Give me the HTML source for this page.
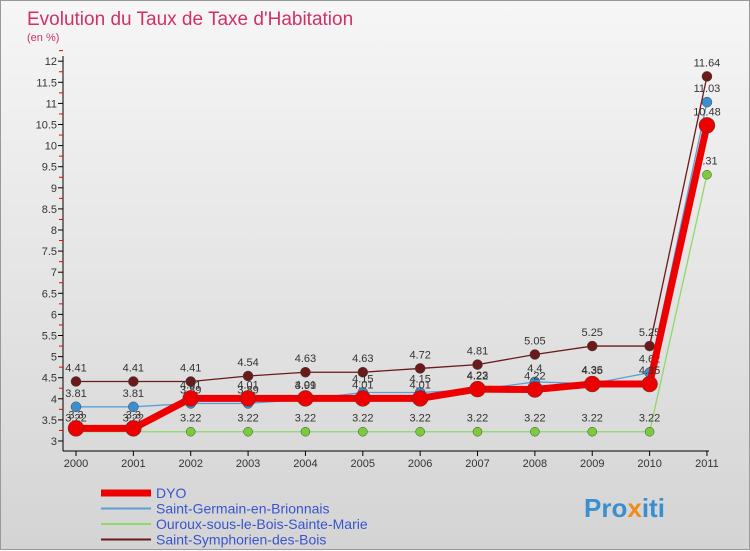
<!DOCTYPE html>
<html><head><meta charset="utf-8"><style>
body{margin:0;width:750px;height:550px;overflow:hidden;font-family:"Liberation Sans",sans-serif}
#wrap{position:absolute;left:0;top:0;width:748px;height:548px;border:1px solid #999;background:linear-gradient(#f6f6f6,#d4d4d4)}
</style></head><body>
<div id="wrap">
<svg id="c" width="750" height="550" style="position:absolute;left:0;top:0">
<text x="26" y="24" font-size="19" fill="#d0306a">Evolution du Taux de Taxe d'Habitation</text>
<text x="26" y="40" font-size="11" fill="#d0306a">(en %)</text>
<g id="axes"></g><g id="series"></g><g id="legend"></g>
<text x="583" y="516" font-size="26" font-weight="bold" fill="#3a8fd0">Pro<tspan fill="#f08a1c">x</tspan>iti</text>
</svg></div>
<script>
const years=[2000,2001,2002,2003,2004,2005,2006,2007,2008,2009,2010,2011];
const dyo=[3.3,3.3,4.01,4.01,4.01,4.01,4.01,4.23,4.22,4.35,4.35,10.48];
const sgb=[3.81,3.81,3.89,3.89,3.99,4.15,4.15,4.22,4.4,4.36,4.62,11.03];
const osm=[3.22,3.22,3.22,3.22,3.22,3.22,3.22,3.22,3.22,3.22,3.22,9.31];
const ssb=[4.41,4.41,4.41,4.54,4.63,4.63,4.72,4.81,5.05,5.25,5.25,11.64];
const seriesNames=["DYO","Saint-Germain-en-Brionnais","Ouroux-sous-le-Bois-Sainte-Marie","Saint-Symphorien-des-Bois"];
const yTicks=[3,3.5,4,4.5,5,5.5,6,6.5,7,7.5,8,8.5,9,9.5,10,10.5,11,11.5,12];
const NS="http://www.w3.org/2000/svg";
const X=i=>75+i*57.36, Y=v=>440-(v-3)*42.2;
function mk(p,t,a){const e=document.createElementNS(NS,t);for(const k in a)e.setAttribute(k,a[k]);p.appendChild(e);return e;}
const ax=document.getElementById('axes'),sg=document.getElementById('series'),lg=document.getElementById('legend');
let e=mk(ax,'line',{x1:62,y1:55,x2:62,y2:450,stroke:'#000'});

e=mk(ax,'line',{x1:62,y1:450,x2:708,y2:450,stroke:'#000'});

yTicks.forEach(v=>{
 mk(ax,'line',{x1:57,x2:62,y1:Y(v),y2:Y(v),stroke:'#000'});
 mk(ax,'line',{x1:58,x2:62,y1:Y(v)-10.55,y2:Y(v)-10.55,stroke:'#e00'});
 const t=mk(ax,'text',{x:56,y:Y(v)+4,'font-size':11,'text-anchor':'end',fill:'#333'});t.textContent=String(v);
 
});
years.forEach((y,i)=>{
 mk(ax,'line',{x1:X(i),x2:X(i),y1:450,y2:455,stroke:'#000'});
 const t=mk(ax,'text',{x:X(i),y:466,'font-size':11,'text-anchor':'middle',fill:'#333'});t.textContent=y;
 
});
const defs=[[ssb,'#6b1a1a','#6b1a1a',1.3,5,'series-saint-symphorien'],[osm,'#8fd86a','#7ccc3a',1.3,4.5,'series-ouroux'],[sgb,'#5aa0d8','#3a8fd0',1.3,5,'series-saint-germain'],[dyo,'#ee0000','#ee0000',7,8,'series-dyo']];
defs.forEach(([d,lc,pc,w,r,name])=>{
 const g=mk(sg,'g',{});
 mk(g,'polyline',{points:d.map((v,i)=>X(i)+','+Y(v)).join(' '),fill:'none',stroke:lc,'stroke-width':w});
 d.forEach((v,i)=>{
  const c=mk(g,'circle',{cx:X(i),cy:Y(v),r:r,fill:pc,stroke:'#444','stroke-width':0.5});
  
  const t=mk(g,'text',{x:X(i),y:Y(v)-10,'font-size':11,'text-anchor':'middle',fill:'#333'});t.textContent=v;
  
 });
});
const lcol=['#ee0000','#5aa0d8','#8fd86a','#6b1a1a'],lw=[7,2,2,2];
seriesNames.forEach((n,i)=>{
 const yy=492+i*15.5;
 const g=mk(lg,'g',{});
 mk(g,'line',{x1:100,x2:150,y1:yy,y2:yy,stroke:lcol[i],'stroke-width':lw[i]});
 const t=mk(g,'text',{x:155,y:yy+5,'font-size':14,fill:'#3a55cc'});t.textContent=n;
});
</script>
</body></html>
